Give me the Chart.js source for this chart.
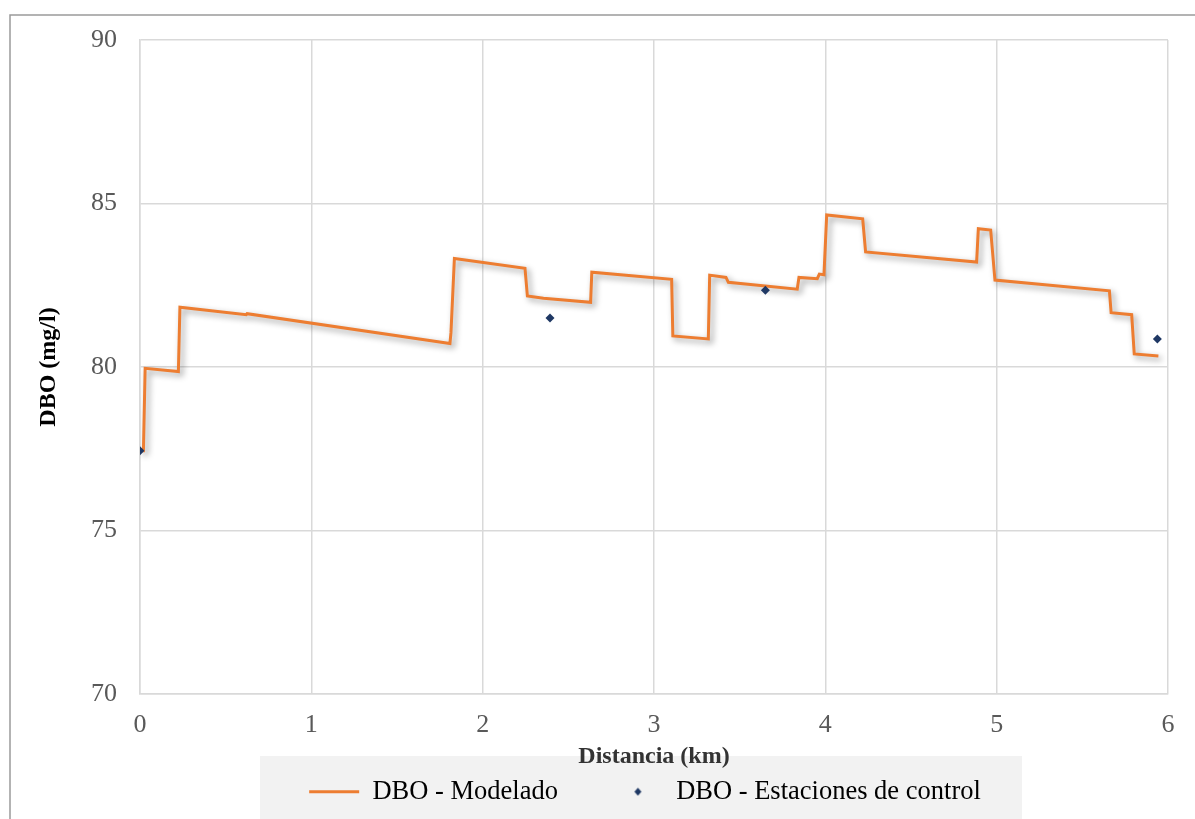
<!DOCTYPE html>
<html>
<head>
<meta charset="utf-8">
<script src="https://cdn.jsdelivr.net/npm/chart.js@4.4.1/dist/chart.umd.min.js"></script>
<style>
    html, body {
        margin: 0;
        padding: 0;
        background: #ffffff;
    }
    #dboChart {
        display: block;
    }
</style>
</head>
<body>
<canvas id="dboChart" width="1195" height="819"></canvas>

<script>
    // modelled DBO profile along the river (km, mg/l)
    const distKm = [0, 0.02, 0.03, 0.224, 0.233, 0.62, 0.625, 1.809, 1.815, 1.835, 2.247, 2.261, 2.355, 2.63, 2.637,
        3.103, 3.11, 3.317, 3.325, 3.42, 3.434, 3.836, 3.846, 3.953, 3.965, 3.992, 4.008, 4.218, 4.235,
        4.883, 4.893, 4.965, 4.99, 5.658, 5.668, 5.788, 5.803, 5.944];
    const dboModel = [77.44, 77.44, 79.96, 79.86, 81.83, 81.60, 81.63, 80.72, 81.05, 83.32, 83.02, 82.17, 82.10, 81.98, 82.90,
        82.68, 80.95, 80.86, 82.81, 82.74, 82.59, 82.38, 82.74, 82.70, 82.84, 82.82, 84.65, 84.53, 83.52,
        83.21, 84.23, 84.19, 82.66, 82.33, 81.66, 81.60, 80.40, 80.34];

    // measured values at the control stations
    const stationKm = [0, 2.393, 3.65, 5.938];
    const stationDbo = [77.44, 81.50, 82.35, 80.86];

    const xTicks = [0, 1, 2, 3, 4, 5, 6];
    const yTicks = [70, 75, 80, 85, 90];

    const serif = '"Liberation Serif", "Times New Roman", serif';
    const orange = '#ED7D31';
    const navy = '#1F3864';
    const gridGray = '#d9d9d9';

    // small diamond used as the legend marker of the stations
    const diamondIcon = document.createElement('canvas');
    diamondIcon.width = 9;
    diamondIcon.height = 9;
    const dctx = diamondIcon.getContext('2d');
    dctx.fillStyle = navy;
    dctx.beginPath();
    dctx.moveTo(4.5, 0.5);
    dctx.lineTo(8, 4.5);
    dctx.lineTo(4.5, 8.5);
    dctx.lineTo(1, 4.5);
    dctx.closePath();
    dctx.fill();

    // outer frame and grey legend panel
    const backdrop = {
        id: 'backdrop',
        beforeDraw(chart) {
            const c = chart.ctx;
            c.save();
            c.fillStyle = '#f2f2f2';
            c.fillRect(260, 756, 762, 63);
            c.strokeStyle = '#9a9a9a';
            c.lineWidth = 1.5;
            c.beginPath();
            c.moveTo(10, 819);
            c.lineTo(10, 15);
            c.lineTo(1195, 15);
            c.stroke();
            c.restore();
        }
    };

    // let the x axis reach down over the legend so its labels and title are not clipped,
    // and nudge the legend a little to the left
    const overlapLayout = {
        id: 'overlapLayout',
        afterLayout(chart) {
            chart.scales.x.bottom = chart.height;
            chart.legend.left -= 9;
            chart.legend.right -= 9;
        }
    };

    // soft drop shadow under the modelled line
    const lineShadow = {
        id: 'lineShadow',
        beforeDatasetDraw(chart, args) {
            if (args.index !== 0) return;
            const c = chart.ctx;
            c.save();
            c.shadowColor = 'rgba(0, 0, 0, 0.4)';
            c.shadowBlur = 6;
            c.shadowOffsetX = 3;
            c.shadowOffsetY = 3;
        },
        afterDatasetDraw(chart, args) {
            if (args.index !== 0) return;
            chart.ctx.restore();
        }
    };

    const ctx = document.getElementById('dboChart').getContext('2d');
    const dboChart = new Chart(ctx, {
        type: 'scatter',
        data: {
            datasets: [{
                label: 'DBO - Modelado',
                data: distKm.map((x, i) => ({x: x, y: dboModel[i]})),
                showLine: true,
                borderColor: orange,
                backgroundColor: orange,
                borderWidth: 3,
                pointRadius: 0,
                tension: 0,
                order: 2
            }, {
                label: 'DBO - Estaciones de control',
                data: stationKm.map((x, i) => ({x: x, y: stationDbo[i]})),
                showLine: false,
                pointStyle: 'rectRot',
                pointRadius: 4.5,
                borderWidth: 0,
                backgroundColor: navy,
                borderColor: navy,
                order: 1
            }]
        },
        options: {
            responsive: false,
            animation: false,
            layout: {
                padding: {left: 10, right: 27, top: 40, bottom: 4}
            },
            scales: {
                x: {
                    type: 'linear',
                    min: 0,
                    max: 6,
                    afterBuildTicks: axis => { axis.ticks = xTicks.map(v => ({value: v})); },
                    afterFit: axis => { axis.height = 29.5; },
                    ticks: {
                        color: '#595959',
                        font: {family: serif, size: 26},
                        padding: 16
                    },
                    grid: {color: gridGray, lineWidth: 1.5, drawTicks: false},
                    border: {color: gridGray, width: 1.5},
                    title: {
                        display: true,
                        text: 'Distancia (km)',
                        color: '#333333',
                        font: {family: serif, size: 24, weight: 'bold'},
                        padding: {top: 0, bottom: 48}
                    }
                },
                y: {
                    min: 70,
                    max: 90,
                    afterBuildTicks: axis => { axis.ticks = yTicks.map(v => ({value: v})); },
                    afterFit: axis => { axis.width = 130; },
                    ticks: {
                        color: '#595959',
                        font: {family: serif, size: 26},
                        padding: 23
                    },
                    grid: {color: gridGray, lineWidth: 1.5, drawTicks: false},
                    border: {color: gridGray, width: 1.5},
                    title: {
                        display: true,
                        text: 'DBO (mg/l)',
                        color: '#000000',
                        font: {family: serif, size: 24, weight: 'bold'},
                        padding: {top: 24, bottom: 0}
                    }
                }
            },
            plugins: {
                legend: {
                    display: true,
                    position: 'bottom',
                    fullSize: false,
                    labels: {
                        color: '#000000',
                        font: {family: serif, size: 26.5},
                        usePointStyle: true,
                        pointStyleWidth: 50,
                        padding: 55,
                        generateLabels: function(chart) {
                            const items = Chart.defaults.plugins.legend.labels.generateLabels(chart);
                            items.sort((a, b) => a.datasetIndex - b.datasetIndex);
                            items.forEach(item => {
                                item.pointStyle = item.datasetIndex === 1 ? diamondIcon : 'line';
                            });
                            return items;
                        }
                    }
                },
                tooltip: {enabled: false}
            }
        },
        plugins: [backdrop, overlapLayout, lineShadow]
    });
</script>
</body>
</html>
